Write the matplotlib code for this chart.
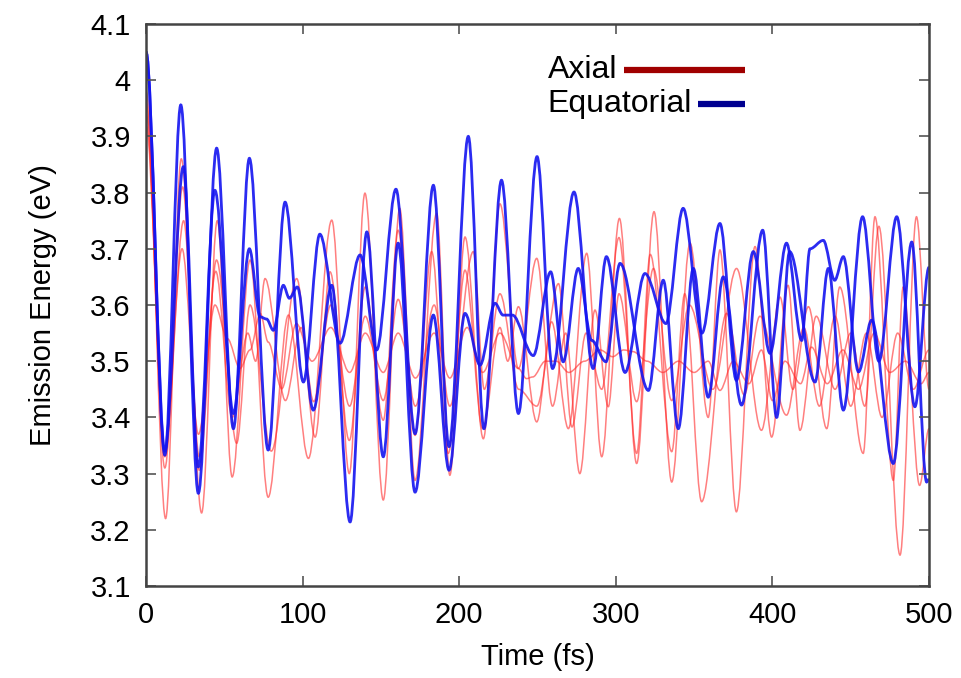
import numpy as np
import matplotlib
matplotlib.use("Agg")
import matplotlib.pyplot as plt
from matplotlib.path import Path
from matplotlib.patches import PathPatch

# +------+
# | Data |
# +------+
# equatorial trajectories (extrema)
eq1_t = [0, 12, 22.2, 33.4, 45.1, 55.8, 66, 78, 88.8, 100.5, 111, 123.9, 136.7, 147.3, 159.6, 171.8,
         183.5, 193.5, 205.8, 215.8, 227, 237.8, 249.7, 259.6, 273.3, 285.5, 294, 305.9, 318.6, 332,
         343, 355, 366.5, 377, 387.8, 398.5, 409, 418.7, 424, 432.5, 439.8, 445.3, 455, 463.4, 477.2,
         489, 498.5, 500]
eq1_e = [4.05, 3.333, 3.956, 3.265, 3.879, 3.38, 3.861, 3.342, 3.783, 3.463, 3.726, 3.532, 3.689, 3.52,
         3.806, 3.371, 3.813, 3.348, 3.90, 3.38, 3.822, 3.407, 3.864, 3.487, 3.801, 3.487, 3.686, 3.48,
         3.656, 3.567, 3.772, 3.55, 3.745, 3.466, 3.695, 3.514, 3.71, 3.537, 3.70, 3.715, 3.644, 3.686,
         3.481, 3.573, 3.318, 3.712, 3.285, 3.29]

eq2_t = [0, 12, 23.8, 33.4, 44, 55.8, 66, 72.8, 77, 81.3, 87.7, 91.5, 96.6, 106.8, 118.6, 130.3, 141,
         151.5, 161, 171.8, 183.5, 193.5, 203.7, 213.3, 222.9, 228, 234, 247.3, 258.4, 266.4, 276, 284.6,
         293.7, 302.7, 320.8, 330.3, 339.9, 349.5, 359, 368.6, 380.3, 393.8, 402.7, 411, 427.2, 435.7,
         445.3, 457.6, 468, 479.4, 491, 500]
eq2_e = [4.05, 3.34, 3.846, 3.312, 3.804, 3.407, 3.70, 3.579, 3.575, 3.555, 3.635, 3.612, 3.632, 3.413,
         3.635, 3.214, 3.73, 3.33, 3.71, 3.267, 3.582, 3.306, 3.585, 3.493, 3.603, 3.582, 3.582, 3.51,
         3.659, 3.499, 3.665, 3.537, 3.499, 3.674, 3.448, 3.644, 3.38, 3.665, 3.436, 3.65, 3.422, 3.733,
         3.40, 3.695, 3.463, 3.665, 3.413, 3.757, 3.50, 3.757, 3.419, 3.667]

# axial trajectories
ax1_t = [0, 12.5, 22.5, 35.5, 45.5, 55, 66.4, 78, 90.9, 103.7, 118.6, 129.8, 139.8, 151.5, 162, 171.8,
         185.6, 194, 203.7, 215.4, 226, 237.8, 249.5, 259.6, 268, 277, 286.7, 295.2, 302, 313.3, 324,
         335.7, 347, 362, 377.1, 393, 404.9, 413, 423, 434.7, 443, 458, 465.5, 477.2, 483.5, 494, 500]
ax1_e = [3.98, 3.22, 3.86, 3.23, 3.75, 3.294, 3.68, 3.258, 3.582, 3.327, 3.751, 3.30, 3.799, 3.253,
         3.772, 3.288, 3.763, 3.297, 3.721, 3.362, 3.78, 3.487, 3.683, 3.42, 3.55, 3.30, 3.591, 3.419,
         3.62, 3.428, 3.665, 3.43, 3.60, 3.45, 3.665, 3.377, 3.614, 3.45, 3.597, 3.38, 3.632, 3.336,
         3.757, 3.288, 3.632, 3.279, 3.38]

ax2_t = [0, 12, 23.4, 34, 45, 57.9, 66.4, 80, 96.2, 108, 117.5, 129.8, 140, 151.5, 161, 171.8, 182.4,
         193, 203.7, 215, 226, 231, 237.8, 249.5, 259, 269.7, 281.4, 291, 302.3, 313.3, 324.4, 335.7,
         347.4, 359, 366.5, 377, 388.9, 399.5, 410, 417.6, 428, 440, 450, 459, 468, 481.5, 492, 500]
ax2_e = [3.96, 3.31, 3.81, 3.306, 3.68, 3.354, 3.60, 3.34, 3.647, 3.365, 3.659, 3.359, 3.632, 3.395,
         3.733, 3.368, 3.695, 3.336, 3.662, 3.38, 3.56, 3.50, 3.597, 3.392, 3.57, 3.38, 3.692, 3.33,
         3.754, 3.318, 3.766, 3.285, 3.71, 3.40, 3.698, 3.232, 3.704, 3.365, 3.635, 3.377, 3.58, 3.45,
         3.55, 3.42, 3.74, 3.155, 3.757, 3.45]

ax3_t = [0, 12, 24, 34, 44.5, 55, 65, 70, 76, 89, 99, 107, 118, 130, 140, 151.5, 161, 172, 184, 194,
         209, 216, 226, 238, 249.5, 263.4, 272, 281, 291, 302, 313.3, 322, 335.7, 344, 354.8, 370.7,
         382, 392, 409, 420, 430, 440, 450, 460, 470, 480, 490, 500]
ax3_e = [3.94, 3.33, 3.75, 3.33, 3.66, 3.40, 3.55, 3.50, 3.647, 3.43, 3.56, 3.428, 3.60, 3.42, 3.58,
         3.43, 3.61, 3.42, 3.60, 3.42, 3.695, 3.45, 3.62, 3.45, 3.42, 3.638, 3.383, 3.55, 3.45, 3.72,
         3.336, 3.69, 3.339, 3.62, 3.25, 3.585, 3.44, 3.58, 3.404, 3.56, 3.42, 3.58, 3.42, 3.55, 3.40,
         3.55, 3.45, 3.52]

ax4_t = [0, 12, 23, 33.5, 44, 52, 60, 66.4, 73, 78, 86.7, 96, 106, 118, 130, 140, 151.5, 161, 172, 184,
         194, 205, 215, 226, 237.8, 243, 247, 255, 262, 270, 280, 290, 298, 305, 311, 320, 330, 340,
         350, 359, 366.5, 375, 385, 393, 400, 408, 418, 425, 435, 445, 455, 465, 475, 485, 495, 500]
ax4_e = [3.92, 3.34, 3.70, 3.37, 3.60, 3.54, 3.487, 3.52, 3.585, 3.534, 3.451, 3.567, 3.50, 3.56, 3.48,
         3.55, 3.48, 3.55, 3.47, 3.55, 3.47, 3.56, 3.48, 3.55, 3.487, 3.469, 3.472, 3.50, 3.50, 3.48,
         3.50, 3.52, 3.508, 3.52, 3.517, 3.50, 3.48, 3.50, 3.48, 3.50, 3.448, 3.50, 3.46, 3.52, 3.43,
         3.50, 3.46, 3.525, 3.46, 3.52, 3.45, 3.55, 3.48, 3.50, 3.46, 3.48]

axial = [(ax1_t, ax1_e), (ax2_t, ax2_e), (ax3_t, ax3_e), (ax4_t, ax4_e)]
equatorial = [(eq1_t, eq1_e), (eq2_t, eq2_e)]

x_ticks = [0, 100, 200, 300, 400, 500]
y_ticks = [3.1, 3.2, 3.3, 3.4, 3.5, 3.6, 3.7, 3.8, 3.9, 4.0, 4.1]
y_tick_labels = ["3.1", "3.2", "3.3", "3.4", "3.5", "3.6", "3.7", "3.8", "3.9", "4", "4.1"]


def smooth_line(ax, t, e, **kw):
    # bezier segments with flat tangents at every read point
    verts = [(t[0], e[0])]
    codes = [Path.MOVETO]
    for i in range(1, len(t)):
        dt = t[i] - t[i - 1]
        verts += [(t[i - 1] + dt / 3, e[i - 1]), (t[i] - dt / 3, e[i]), (t[i], e[i])]
        codes += [Path.CURVE4] * 3
    ax.add_patch(PathPatch(Path(verts, codes), fill=False, transform=ax.transData, **kw))


# +------+
# | Plot |
# +------+
plt.rcParams['font.family'] = ['Liberation Sans', 'DejaVu Sans']

fig = plt.figure(figsize=(9.62, 6.78), dpi=100)
ax = fig.add_axes([0.1518, 0.1357, 0.8139, 0.8289])

for t, e in axial:
    smooth_line(ax, t, e, edgecolor='#ff2a2a', lw=1.1, alpha=0.6)
for t, e in equatorial:
    smooth_line(ax, t, e, edgecolor='#1414f0', lw=2.0, alpha=0.9)

ax.set_xlim(0, 500)
ax.set_ylim(3.1, 4.1)
ax.set_xticks(x_ticks)
ax.set_yticks(y_ticks)
ax.set_yticklabels(y_tick_labels)
ax.tick_params(direction='in', length=7, width=1.2, top=True, right=True,
               labelsize=21, pad=11, color='#555555')
for s in ax.spines.values():
    s.set_linewidth(1.8)
    s.set_color('#444444')

ax.set_xlabel('Time (fs)', fontsize=21, labelpad=10)
ax.set_ylabel('Emission Energy (eV)', fontsize=21, labelpad=24)

# key, gnuplot style
ax.text(0.513, 0.918, 'Axial', transform=ax.transAxes, fontsize=23, va='center', ha='left')
ax.plot([0.610, 0.765], [0.918, 0.918], transform=ax.transAxes, color='#a00000', lw=4.5,
        solid_capstyle='butt')
ax.text(0.513, 0.858, 'Equatorial', transform=ax.transAxes, fontsize=23, va='center', ha='left')
ax.plot([0.705, 0.765], [0.858, 0.858], transform=ax.transAxes, color='#000090', lw=4.5,
        solid_capstyle='butt')

plt.savefig('out.png', dpi=100)
